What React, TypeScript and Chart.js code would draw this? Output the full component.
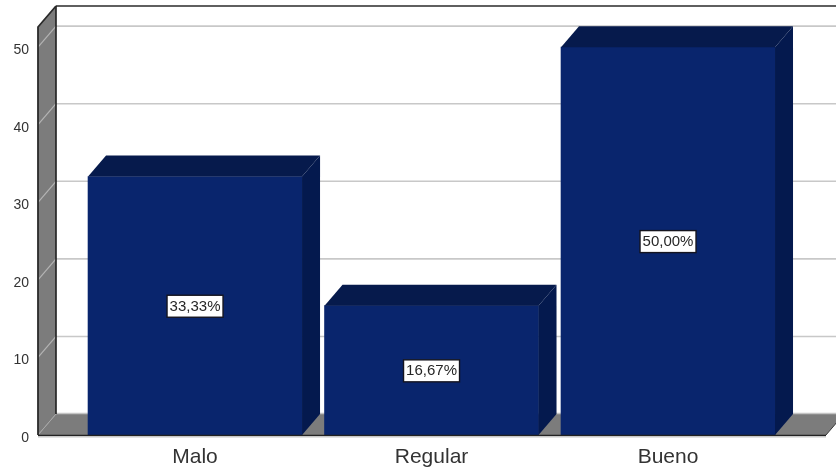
import React, { useEffect, useRef } from "react";
import { Chart, registerables } from "chart.js";

Chart.register(...registerables);

const categories = ["Malo", "Regular", "Bueno"];
const percentages = [33.33, 16.67, 50];
const valueTicks = [0, 10, 20, 30, 40, 50];

const FONT = '"Liberation Sans", Arial, sans-serif';
const DEPTH_X = 18;
const DEPTH_Y = 21;

function fillPoly(ctx: CanvasRenderingContext2D, pts: number[][], color: string) {
  ctx.beginPath();
  pts.forEach(([x, y], i) => (i ? ctx.lineTo(x, y) : ctx.moveTo(x, y)));
  ctx.closePath();
  ctx.fillStyle = color;
  ctx.fill();
}

function strokeLine(ctx: CanvasRenderingContext2D, pts: number[][], color: string, width: number) {
  ctx.beginPath();
  pts.forEach(([x, y], i) => (i ? ctx.lineTo(x, y) : ctx.moveTo(x, y)));
  ctx.strokeStyle = color;
  ctx.lineWidth = width;
  ctx.stroke();
}

// Walls, floor and gridlines of the box behind the bars.
const boxPlugin = {
  id: "box3d",
  beforeDatasetsDraw(chart: any) {
    const { ctx, chartArea: a, scales } = chart;
    const { left, right, top, bottom } = a;
    const y = scales.y;
    ctx.save();
    fillPoly(ctx, [[left, top], [left + DEPTH_X, top - DEPTH_Y], [left + DEPTH_X, bottom - DEPTH_Y], [left, bottom]], "#7c7c7c");
    fillPoly(ctx, [[left, bottom], [left + DEPTH_X, bottom - DEPTH_Y], [right + DEPTH_X, bottom - DEPTH_Y], [right, bottom]], "#7c7c7c");
    strokeLine(ctx, [[left + DEPTH_X, bottom - DEPTH_Y - 0.5], [right + DEPTH_X, bottom - DEPTH_Y - 0.5]], "#c4c4c4", 1.5);
    valueTicks.filter((v) => v > 0).forEach((v) => {
      const py = y.getPixelForValue(v);
      strokeLine(ctx, [[left, py], [left + DEPTH_X, py - DEPTH_Y]], "#b4b4b4", 1.2);
      strokeLine(ctx, [[left + DEPTH_X, py - DEPTH_Y], [right + DEPTH_X, py - DEPTH_Y]], "#c8c8c8", 1.6);
    });
    strokeLine(ctx, [[left, bottom], [left + DEPTH_X, bottom - DEPTH_Y]], "#a8a8a8", 1);
    strokeLine(ctx, [[left + DEPTH_X, top - DEPTH_Y], [right + DEPTH_X, top - DEPTH_Y]], "#2a2a2a", 1.4);
    strokeLine(ctx, [[left + DEPTH_X, top - DEPTH_Y], [left + DEPTH_X, bottom - DEPTH_Y]], "#1e1e1e", 1.6);
    strokeLine(ctx, [[left + DEPTH_X, top - DEPTH_Y], [left, top], [left, bottom]], "#2a2a2a", 1.8);
    strokeLine(ctx, [[right, bottom], [right + DEPTH_X, bottom - DEPTH_Y]], "#3a3a3a", 1);
    ctx.restore();
  },
  // Bar depth faces, the front baseline and the value boxes.
  afterDatasetsDraw(chart: any) {
    const { ctx, chartArea: a } = chart;
    const bars = chart.getDatasetMeta(0).data;
    ctx.save();
    bars.forEach((bar: any) => {
      const l = bar.x - bar.width / 2;
      const r = bar.x + bar.width / 2;
      const t = bar.y;
      const b = bar.base;
      fillPoly(ctx, [[l, t], [l + DEPTH_X, t - DEPTH_Y], [r + DEPTH_X, t - DEPTH_Y], [r, t]], "#061a4c");
      fillPoly(ctx, [[r, t], [r + DEPTH_X, t - DEPTH_Y], [r + DEPTH_X, b - DEPTH_Y], [r, b]], "#04194e");
    });
    strokeLine(ctx, [[a.left, a.bottom + 0.5], [a.right, a.bottom + 0.5]], "#222222", 1.4);
    strokeLine(ctx, [[a.left, a.bottom + 2], [a.right, a.bottom + 2]], "#c8c8c8", 1);

    ctx.font = `15px ${FONT}`;
    ctx.textAlign = "center";
    ctx.textBaseline = "middle";
    bars.forEach((bar: any, i: number) => {
      const cy = (bar.y + bar.base) / 2 + 0.5;
      const text = `${percentages[i].toFixed(2).replace(".", ",")}%`;
      const w = 56;
      const h = 22;
      ctx.fillStyle = "#ffffff";
      ctx.fillRect(bar.x - w / 2, cy - h / 2, w, h);
      ctx.strokeStyle = "#15151f";
      ctx.lineWidth = 1.4;
      ctx.strokeRect(bar.x - w / 2, cy - h / 2, w, h);
      ctx.fillStyle = "#262626";
      ctx.fillText(text, bar.x, cy + 0.5);
    });
    ctx.restore();
  },
};

export default function App() {
  const ref = useRef<HTMLCanvasElement>(null);

  useEffect(() => {
    if (!ref.current) return;
    const chart = new Chart(ref.current, {
      type: "bar",
      data: {
        datasets: [
          {
            data: percentages.map((v, i) => ({ x: i, y: v })),
            backgroundColor: "#09256d",
            borderWidth: 0,
            barThickness: 214,
          },
        ],
      },
      options: {
        responsive: false,
        animation: false,
        layout: { padding: { top: 27, right: 10, left: 0, bottom: 0 } },
        plugins: { legend: { display: false }, tooltip: { enabled: false }, title: { display: false } },
        scales: {
          x: {
            type: "linear",
            offset: false,
            min: -0.664,
            max: 2.668,
            grid: { display: false, drawTicks: false },
            border: { display: false },
            afterBuildTicks: (s: any) => {
              s.ticks = categories.map((_, i) => ({ value: i }));
            },
            afterFit: (s: any) => {
              s.height = 39;
            },
            ticks: {
              autoSkip: false,
              maxRotation: 0,
              padding: 10,
              color: "#333333",
              font: { family: FONT, size: 21 },
              callback: (v: any) => categories[v],
            },
          },
          y: {
            min: 0,
            max: 52.6,
            grid: { display: false, drawTicks: false },
            border: { display: false },
            afterFit: (s: any) => {
              s.width = 38;
            },
            afterBuildTicks: (s: any) => {
              s.ticks = valueTicks.map((value) => ({ value }));
            },
            ticks: {
              padding: 9,
              labelOffset: 3,
              color: "#333333",
              font: { family: FONT, size: 14 },
            },
          },
        },
      } as any,
      plugins: [boxPlugin],
    });
    return () => chart.destroy();
  }, []);

  return (
    <canvas
      ref={ref}
      width={836}
      height={474}
      style={{ position: "absolute", left: 0, top: 0, display: "block", background: "#ffffff" }}
    />
  );
}
